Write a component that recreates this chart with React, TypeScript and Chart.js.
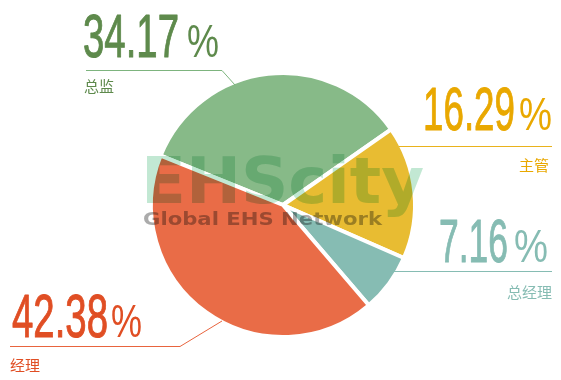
import React, { useEffect, useRef } from 'react';
import { Chart, registerables } from 'chart.js';

Chart.register(...registerables);

// ---- data ----
const categories = ['总监', '主管', '总经理', '经理'];
const values = [34.17, 16.29, 7.16, 42.38];
const valueTexts = ['34.17', '16.29', '7.16', '42.38'];

// ---- styles ----
const sliceColors = ['#87BA88', '#E8BC32', '#86BCB3', '#E96C47'];
const textColors = ['#5E8A4C', '#E9A800', '#86BCB3', '#E04E24'];
const lineColors = ['#7DB47E', '#E9B21C', '#86BCB3', '#E8643E'];

// ---- label layout (x positions / baselines / widths) ----
type LabelLayout = {
  numX: number; numW: number; pctX: number; pctW: number; base: number;
  catX: number; catBase: number; catAlign: CanvasTextAlign;
  line: [number, number][];
};
const labelLayout: LabelLayout[] = [
  { numX: 83, numW: 96, pctX: 187, pctW: 32, base: 57, catX: 84, catBase: 92, catAlign: 'left',
    line: [[86, 70.5], [222, 70.5], [235, 85]] },
  { numX: 423, numW: 92, pctX: 519, pctW: 33, base: 130, catX: 549, catBase: 171, catAlign: 'right',
    line: [[399, 146.5], [552, 146.5]] },
  { numX: 439, numW: 69, pctX: 514, pctW: 34, base: 262, catX: 552, catBase: 298, catAlign: 'right',
    line: [[392, 271.5], [552, 271.5]] },
  { numX: 12, numW: 96, pctX: 111, pctW: 31, base: 337, catX: 10, catBase: 371, catAlign: 'left',
    line: [[10, 346.5], [180, 346.5], [222, 321]] },
];

function fitText(ctx: CanvasRenderingContext2D, text: string, x: number, base: number, w: number, font: string, color: string, stroke = 0) {
  ctx.save();
  ctx.font = font;
  ctx.fillStyle = color;
  ctx.strokeStyle = color;
  ctx.textAlign = 'left';
  ctx.textBaseline = 'alphabetic';
  const m = ctx.measureText(text).width || 1;
  ctx.translate(x, base);
  const s = w / m;
  ctx.scale(s, 1);
  ctx.fillText(text, 0, 0);
  if (stroke > 0) {
    ctx.lineWidth = stroke;
    ctx.lineJoin = 'round';
    ctx.strokeText(text, 0, 0);
  }
  ctx.restore();
}

const labelsPlugin = {
  id: 'customLabels',
  afterDraw(chart: any) {
    const ctx: CanvasRenderingContext2D = chart.ctx;
    // watermark
    ctx.save();
    ctx.globalCompositeOperation = 'multiply';
    fitText(ctx, 'EHScity', 141, 203, 283, 'bold 64px "DejaVu Sans"', '#C2E8D3');
    fitText(ctx, 'Global EHS Network', 143, 225, 239, 'bold 18px "DejaVu Sans"', '#ABABAB');
    ctx.restore();

    labelLayout.forEach((L, i) => {
      // leader line
      ctx.save();
      ctx.strokeStyle = lineColors[i];
      ctx.lineWidth = 1;
      ctx.beginPath();
      L.line.forEach(([x, y], k) => (k === 0 ? ctx.moveTo(x, y) : ctx.lineTo(x, y)));
      ctx.stroke();
      ctx.restore();
      // value
      fitText(ctx, valueTexts[i], L.numX, L.base, L.numW, '62px "Liberation Sans Narrow", "Liberation Sans", sans-serif', textColors[i], 1.0);
      fitText(ctx, '%', L.pctX, L.base, L.pctW, '46px "Liberation Sans Narrow", "Liberation Sans", sans-serif', textColors[i]);
      // category
      ctx.save();
      ctx.font = '15px "Noto Sans CJK SC"';
      ctx.fillStyle = textColors[i];
      ctx.textAlign = L.catAlign;
      ctx.textBaseline = 'alphabetic';
      ctx.fillText(categories[i], L.catX, L.catBase);
      ctx.restore();
    });
  },
};

export default function App() {
  const ref = useRef<HTMLCanvasElement | null>(null);
  useEffect(() => {
    if (!ref.current) return;
    const chart = new Chart(ref.current, {
      type: 'pie',
      data: {
        labels: categories,
        datasets: [{
          data: values,
          backgroundColor: sliceColors,
          borderColor: '#ffffff',
          borderWidth: 4,
        }],
      },
      options: {
        animation: false,
        responsive: true,
        maintainAspectRatio: false,
        rotation: -68,
        layout: { padding: { left: 149, right: 144, top: 71, bottom: 41 } },
        plugins: { legend: { display: false }, tooltip: { enabled: false } },
      },
      plugins: [labelsPlugin],
    } as any);
    return () => chart.destroy();
  }, []);
  return (
    <div style={{ position: 'absolute', left: 0, top: 0, width: 561, height: 380, background: '#fff' }}>
      <canvas ref={ref} />
    </div>
  );
}
